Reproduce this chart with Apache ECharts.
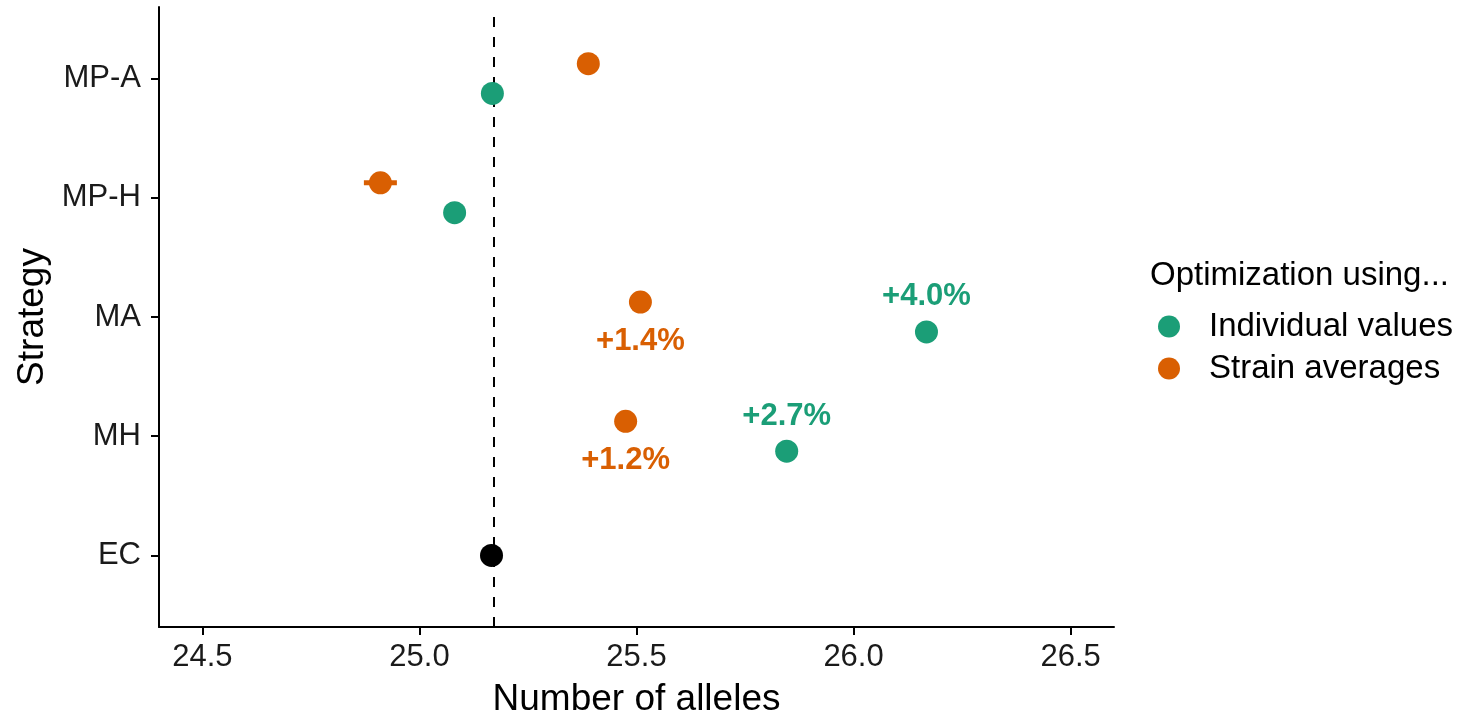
<!DOCTYPE html>
<html>
<head>
<meta charset="utf-8">
<script src="https://cdn.jsdelivr.net/npm/echarts@6/dist/echarts.min.js"></script>
<style>
html,body{margin:0;padding:0;background:#fff;}
#chart{width:1463px;height:723px;}
</style>
</head>
<body>
<div id="chart"></div>
<script>
// ---- data ----
const categories = ['EC', 'MH', 'MA', 'MP-H', 'MP-A']; // bottom to top
const ecValue = 25.166;
const strategies = ['MH', 'MA', 'MP-H', 'MP-A'];
const individualValues = [25.846, 26.168, 25.081, 25.168];
const strainAverages = [25.475, 25.509, 24.910, 25.389];
const strainErrors = [0.01, 0.01, 0.038, 0.01];
const individualLabels = ['+2.7%', '+4.0%', '', ''];
const strainLabels = ['+1.2%', '+1.4%', '', ''];
const xTicks = [24.5, 25.0, 25.5, 26.0, 26.5];

// ---- styling ----
const GREEN = '#1B9E77';
const ORANGE = '#D95F02';
const FONT = 'Liberation Sans, Arial, Helvetica, sans-serif';
const DODGE = 0.125;
const yTicks = categories.map((c, i) => i + 1);
const catPos = name => categories.indexOf(name) + 1;

const indivData = strategies.map((s, i) => ({
  value: [individualValues[i], catPos(s) - DODGE],
  label: { show: !!individualLabels[i], formatter: individualLabels[i] }
}));
const strainData = strategies.map((s, i) => ({
  value: [strainAverages[i], catPos(s) + DODGE],
  label: { show: !!strainLabels[i], formatter: strainLabels[i] }
}));
const errData = strategies.map((s, i) => [
  strainAverages[i] - strainErrors[i], strainAverages[i] + strainErrors[i], catPos(s) + DODGE
]);

const chart = echarts.init(document.getElementById('chart'), null, { renderer: 'canvas' });
chart.setOption({
  animation: false,
  backgroundColor: '#fff',
  textStyle: { fontFamily: FONT },
  grid: { left: 159, right: 349, top: 7, bottom: 88, containLabel: false },
  title: {
    text: 'Optimization using...',
    left: 1145, top: 254,
    textStyle: { fontFamily: FONT, fontSize: 33, fontWeight: 'normal', color: '#000' }
  },
  legend: {
    data: ['Individual values', 'Strain averages'],
    orient: 'vertical',
    left: 1153, top: 305,
    icon: 'circle',
    itemWidth: 70, itemHeight: 22, itemGap: 9,
    selectedMode: false,
    textStyle: { fontFamily: FONT, fontSize: 33, color: '#000' }
  },
  xAxis: {
    type: 'value', min: 24.4, max: 26.6,
    name: 'Number of alleles', nameLocation: 'middle', nameGap: 54,
    nameTextStyle: { fontFamily: FONT, fontSize: 37, color: '#000' },
    axisLine: { show: true, onZero: false, lineStyle: { color: '#000', width: 2 } },
    axisTick: { show: true, length: 8, lineStyle: { color: '#000', width: 2 }, customValues: xTicks },
    axisLabel: { customValues: xTicks, margin: 15, fontSize: 31, color: '#1a1a1a', fontFamily: FONT,
      formatter: v => Number(v).toFixed(1) },
    splitLine: { show: false }
  },
  yAxis: {
    type: 'value', min: 0.4, max: 5.6,
    name: 'Strategy', nameLocation: 'middle', nameGap: 108, nameRotate: 90,
    nameTextStyle: { fontFamily: FONT, fontSize: 37, color: '#000' },
    axisLine: { show: true, onZero: false, lineStyle: { color: '#000', width: 2 } },
    axisTick: { show: true, length: 8, lineStyle: { color: '#000', width: 2 }, customValues: yTicks },
    axisLabel: { customValues: yTicks, margin: 18, fontSize: 31, color: '#1a1a1a', fontFamily: FONT,
      formatter: v => categories[Math.round(v) - 1] || '' },
    splitLine: { show: false }
  },
  series: [
    {
      type: 'custom',
      name: 'errorbars',
      z: 1,
      encode: { x: [0, 1], y: 2 },
      data: errData,
      renderItem: (params, api) => {
        const y = api.value(2);
        const p1 = api.coord([api.value(0), y]);
        const p2 = api.coord([api.value(1), y]);
        return { type: 'line', shape: { x1: p1[0], y1: p1[1], x2: p2[0], y2: p2[1] },
          style: { stroke: ORANGE, lineWidth: 5 } };
      }
    },
    {
      type: 'scatter',
      name: 'EC',
      z: 3,
      symbolSize: 23,
      itemStyle: { color: '#000', opacity: 1 },
      data: [[ecValue, catPos('EC')]],
      markLine: {
        silent: true, symbol: 'none', z: 0,
        label: { show: false },
        lineStyle: { color: '#000', width: 2, type: [10, 10] },
        data: [{ xAxis: ecValue }]
      }
    },
    {
      type: 'scatter',
      name: 'Individual values',
      z: 3,
      symbolSize: 23,
      itemStyle: { color: GREEN, opacity: 1 },
      label: { position: 'top', distance: 8, color: GREEN, fontSize: 31, fontWeight: 'bold', fontFamily: FONT },
      data: indivData
    },
    {
      type: 'scatter',
      name: 'Strain averages',
      z: 3,
      symbolSize: 23,
      itemStyle: { color: ORANGE, opacity: 1 },
      label: { position: 'bottom', distance: 12, color: ORANGE, fontSize: 31, fontWeight: 'bold', fontFamily: FONT },
      data: strainData
    }
  ]
});
</script>
</body>
</html>
